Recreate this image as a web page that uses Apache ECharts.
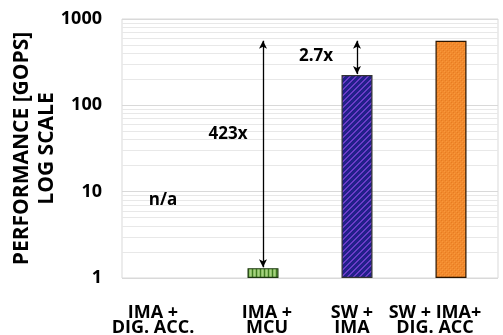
<!DOCTYPE html>
<html><head><meta charset="utf-8">
<script src="https://cdn.jsdelivr.net/npm/echarts@6/dist/echarts.min.js"></script>
<style>html,body{margin:0;padding:0;background:#fff}#c{width:503px;height:335px}</style>
</head><body><div id="c"></div>
<script>
// ---- data ----
var categories = ['IMA +\nDIG. ACC.', 'IMA +\nMCU', 'SW +\nIMA', 'SW + IMA+\nDIG. ACC'];
var performance = [null, 1.3, 225, 560];
var yTicks = [1, 10, 100, 1000];
var minorTicks = [2,3,4,5,6,7,8,9,20,30,40,50,60,70,80,90,200,300,400,500,600,700,800,900];
var arrows = [
  {cat: 1, from: 1.33, to: 560},
  {cat: 2, from: 230, to: 560}
];
var notes = [
  {text: 'n/a', cat: 0, value: 8.0},
  {text: '423x', cat: 1, value: 46},
  {text: '2.7x', cat: 2, value: 370}
];

// ---- styles ----
var labelShift = [-16, 4, -5, -16];
var noteOffsets = [[-6, 0], [-35, 0], [-41, 0]];

function pat(w, h, draw) {
  var c = document.createElement('canvas'); c.width = w; c.height = h;
  draw(c.getContext('2d')); return {image: c, repeat: 'repeat'};
}
var greenPat = pat(4, 4, function (g) {
  g.fillStyle = '#8cc063'; g.fillRect(0, 0, 4, 4);
  g.fillStyle = '#3f7a22'; g.fillRect(0, 0, 1, 4);
  g.fillStyle = '#a6d184'; g.fillRect(2, 0, 1, 4);
});
var bluePat = pat(6, 6, function (g) {
  g.fillStyle = '#22208a'; g.fillRect(0, 0, 6, 6);
  g.fillStyle = '#6b3cc8';
  for (var i = 0; i < 6; i++) { g.fillRect(i % 6, 5 - i, 1, 1); g.fillRect((i + 1) % 6, 5 - i, 1, 1); }
});
var orangePat = pat(4, 4, function (g) {
  g.fillStyle = '#f28a2e'; g.fillRect(0, 0, 4, 4);
  g.fillStyle = '#e67d22'; g.fillRect(1, 0, 1, 1); g.fillRect(3, 2, 1, 1);
  g.fillStyle = '#f79a3c'; g.fillRect(0, 3, 1, 1); g.fillRect(2, 1, 1, 1);
});
var fills = [null, greenPat, bluePat, orangePat];
var borders = ['#000', '#1e3a10', '#333', '#2a1500'];

var FONT = 'Open Sans';
var rich = {};
labelShift.forEach(function (s, i) {
  rich['c' + i] = {fontFamily: FONT, fontWeight: 'bold', fontSize: 18, color: '#000', lineHeight: 15, height: 15,
    padding: s < 0 ? [0, -2 * s, 0, 0] : [0, 0, 0, 2 * s]};
});

var chart = echarts.init(document.getElementById('c'));
chart.setOption({
  animation: false,
  grid: {left: 122, right: 5, top: 19, bottom: 57, show: true, borderColor: '#d9d9d9', borderWidth: 1,
    containLabel: false, outerBoundsMode: 'none'},
  xAxis: {
    type: 'category', data: categories,
    axisLine: {show: false}, axisTick: {show: false},
    axisLabel: {fontFamily: FONT, fontWeight: 'bold', fontSize: 18, color: '#000', lineHeight: 15, margin: 27, interval: 0,
      formatter: function (v, idx) {
        return v.split('\n').map(function (l) { return '{c' + idx + '|' + l + '}'; }).join('\n');
      }, rich: rich}
  },
  yAxis: {
    type: 'log', logBase: 10, min: yTicks[0], max: yTicks[yTicks.length - 1],
    name: 'PERFORMANCE [GOPS]\nLOG SCALE', nameLocation: 'middle', nameGap: 62, nameMoveOverlap: false,
    nameTextStyle: {fontFamily: FONT, fontWeight: 'bold', fontSize: 21, color: '#000', lineHeight: 25},
    axisLine: {show: false}, axisTick: {show: false},
    axisLabel: {fontFamily: FONT, fontWeight: 'bold', fontSize: 18, color: '#000', margin: 20,
      formatter: function (v) { return String(v); }},
    splitLine: {lineStyle: {color: '#d9d9d9', width: 1}}
  },
  series: [{
    type: 'bar', barWidth: 31,
    data: performance.map(function (v, i) {
      return {value: v, itemStyle: {color: fills[i], borderColor: borders[i], borderWidth: 1.2}};
    }),
    markLine: {
      silent: true, z: 1, symbol: 'none', label: {show: false},
      lineStyle: {color: '#e8e8e8', type: 'solid', width: 1},
      data: minorTicks.map(function (v) { return {yAxis: v}; })
    },
    markPoint: {
      symbol: 'circle', symbolSize: 0,
      data: notes.map(function (n, i) {
        return {coord: [n.cat, n.value], label: {show: true, formatter: n.text, position: 'inside', offset: noteOffsets[i],
          fontFamily: FONT, fontWeight: 'bold', fontSize: 17, color: '#000'}};
      })
    }
  }, {
    type: 'line', data: [],
    markLine: {
      silent: true, symbol: ['arrow', 'arrow'], symbolSize: [6, 8], label: {show: false},
      lineStyle: {color: '#000', type: 'solid', width: 1.3},
      data: arrows.map(function (a) { return [{coord: [a.cat, a.from]}, {coord: [a.cat, a.to]}]; })
    }
  }]
});
</script></body></html>
